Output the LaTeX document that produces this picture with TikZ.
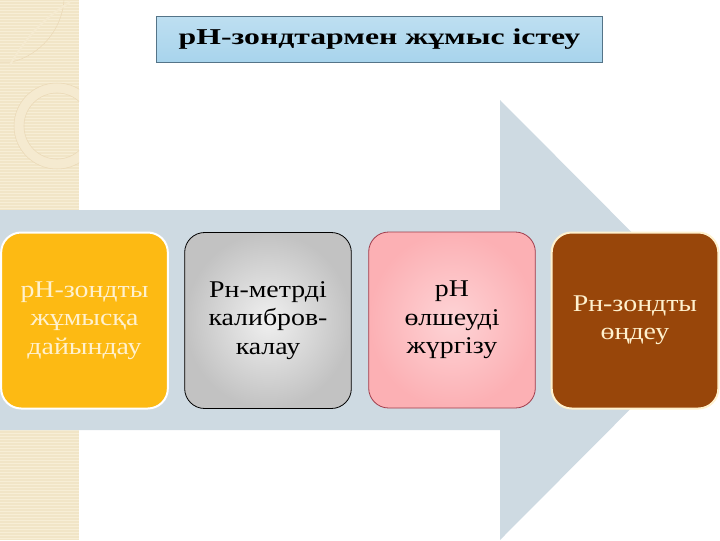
\documentclass[tikz,border=0pt]{standalone}
\usepackage{fontspec}
\setmainfont{Liberation Serif}[FakeStretch=1.16]
\newfontfamily\titlefont{Liberation Serif}[FakeStretch=1.4]
\definecolor{stripbg}{RGB}{241,229,199}
\definecolor{stripln}{RGB}{247,238,214}
\definecolor{arrowbg}{RGB}{206,218,226}
\definecolor{titlebg}{RGB}{168,212,236}
\definecolor{titleln}{RGB}{84,116,136}
\definecolor{stepyellow}{RGB}{253,186,19}
\definecolor{steppink}{RGB}{252,176,180}
\definecolor{stepbrown}{RGB}{152,70,10}
\definecolor{cream}{RGB}{255,241,206}
\tikzset{
  stepbox/.style={rounded corners=15pt, minimum width=125pt, minimum height=132pt,
    align=center, inner sep=2pt, font=\fontsize{18}{21.3}\selectfont}
}

\begin{document}
\begin{tikzpicture}[x=0.75pt,y=0.75pt,yscale=-1,xscale=1]
			\useasboundingbox (0,0) rectangle (720,540) ;
			%Shape: Left strip
			\fill[stripbg] (0,0) rectangle (79,540) ;
			\foreach \y in {1.5,4.5,...,540} {
				\draw[stripln, line width=0.6pt] (0,\y) -- (79,\y) ;
			}
			\begin{scope}
				\clip (0,0) rectangle (79,540) ;
				%Shape: Ring
				\draw[stripln!60!stripbg, line width=7pt] (57,126) circle (38) ;
				\draw[stripbg!88!brown, line width=0.4pt] (57,126) circle (43) ;
				\draw[stripbg!88!brown, line width=0.4pt] (57,126) circle (33) ;
				%Shape: Corner frame
				\draw[stripbg!88!brown, line width=0.4pt] (0,62) -- (12,62) .. controls (40,55) and (62,30) .. (64,0) ;
				\draw[stripln!60!stripbg, line width=1.5pt] (10,65) .. controls (30,30) and (50,15) .. (70,2) ;
			\end{scope}
			%Shape: Big arrow
			\fill[arrowbg] (0,210) -- (500,210) -- (500,100) -- (719,320) -- (500,540) -- (500,430) -- (0,430) -- cycle ;
			%Shape: Title box
			\node[draw=titleln, line width=0.6pt, top color=titlebg!75!white, bottom color=titlebg,
				minimum width=334pt, minimum height=34.5pt, inner sep=0pt,
				font=\titlefont\bfseries\fontsize{17}{20}\selectfont] (title) at (379.5,39) {рН-зондтармен жұмыс істеу};
			% Step nodes
			\node[stepbox, fill=stepyellow, draw=white, line width=1.5pt, text=cream] (prepare) at (84.5,320.5) {рН-зондты\\жұмысқа\\дайындау};
			\node[stepbox, draw=black, line width=0.6pt, inner color=gray!12, outer color=gray!48] (calib) at (268,320.5) {Рн-метрді\\калибров-\\калау};
			\node[stepbox, draw={rgb,255:red,160;green,60;blue,75}, line width=0.6pt, inner color=steppink!55!white, outer color=steppink] (measure) at (452,320) {рН\\өлшеуді\\жүргізу};
			\node[stepbox, fill=stepbrown, draw=cream, line width=1.5pt, text=cream] (process) at (635,320.5) {Рн-зондты\\өңдеу};
\end{tikzpicture}
\end{document}
